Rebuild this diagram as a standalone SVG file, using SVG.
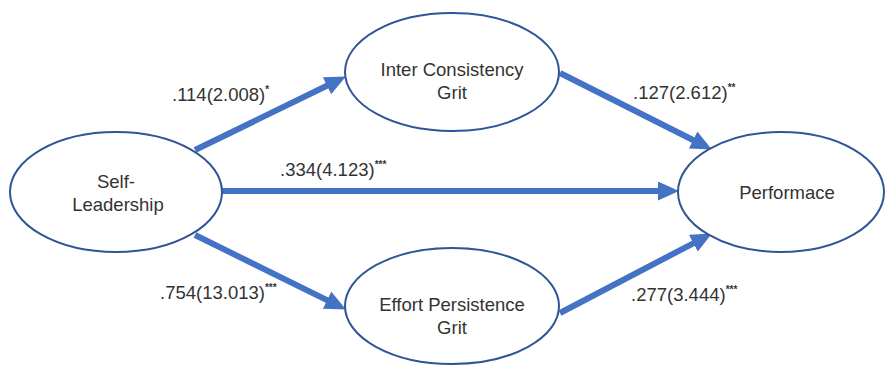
<svg xmlns="http://www.w3.org/2000/svg" width="886" height="365" viewBox="0 0 886 365">
<defs>
<style>
.node{fill:#fff;stroke:#2F5597;stroke-width:2}
.lbl{font-family:"Liberation Sans",Arial,sans-serif;font-size:18.5px;fill:#333;text-anchor:middle}
.coef{font-family:"Liberation Sans",Arial,sans-serif;font-size:18.5px;fill:#333}
.sup{font-size:10px;font-weight:bold}
.conn{stroke:#4472C4;stroke-width:6;fill:none}
</style>
<marker id="ah" markerUnits="userSpaceOnUse" viewBox="0 0 21 19" markerWidth="21" markerHeight="19" refX="1" refY="9.5" orient="auto">
<path d="M0,0 L21,9.5 L0,19 z" fill="#4472C4"/>
</marker>
</defs>
<rect width="886" height="365" fill="#fff"/>
<g id="connectors">
<line class="conn" x1="195" y1="150" x2="327.9" y2="85.3" marker-end="url(#ah)"/>
<line class="conn" x1="222" y1="191" x2="659" y2="191" marker-end="url(#ah)"/>
<line class="conn" x1="560" y1="73" x2="694" y2="140.5" marker-end="url(#ah)"/>
<line class="conn" x1="195" y1="235" x2="328" y2="300.6" marker-end="url(#ah)"/>
<line class="conn" x1="560" y1="313" x2="694.2" y2="242.8" marker-end="url(#ah)"/>
</g>
<g id="self-leadership">
<ellipse class="node" cx="116" cy="192" rx="106" ry="60"/>
<text class="lbl" x="116" y="188">Self-</text>
<text class="lbl" x="118" y="211">Leadership</text>
</g>
<g id="inter-consistency-grit">
<ellipse class="node" cx="452" cy="72" rx="107" ry="59"/>
<text class="lbl" x="452" y="76">Inter Consistency</text>
<text class="lbl" x="452" y="99">Grit</text>
</g>
<g id="effort-persistence-grit">
<ellipse class="node" cx="452" cy="306" rx="107" ry="58"/>
<text class="lbl" x="452" y="311">Effort Persistence</text>
<text class="lbl" x="452" y="334">Grit</text>
</g>
<g id="performace">
<ellipse class="node" cx="781" cy="192" rx="103" ry="60"/>
<text class="lbl" x="787" y="199">Performace</text>
</g>
<g id="coefficients">
<text class="coef" x="172" y="101">.114(2.008)<tspan class="sup" dy="-8">*</tspan></text>
<text class="coef" x="280" y="176">.334(4.123)<tspan class="sup" dy="-8">***</tspan></text>
<text class="coef" x="633" y="99">.127(2.612)<tspan class="sup" dy="-8">**</tspan></text>
<text class="coef" x="160" y="299">.754(13.013)<tspan class="sup" dy="-8">***</tspan></text>
<text class="coef" x="631" y="301">.277(3.444)<tspan class="sup" dy="-8">***</tspan></text>
</g>
</svg>
